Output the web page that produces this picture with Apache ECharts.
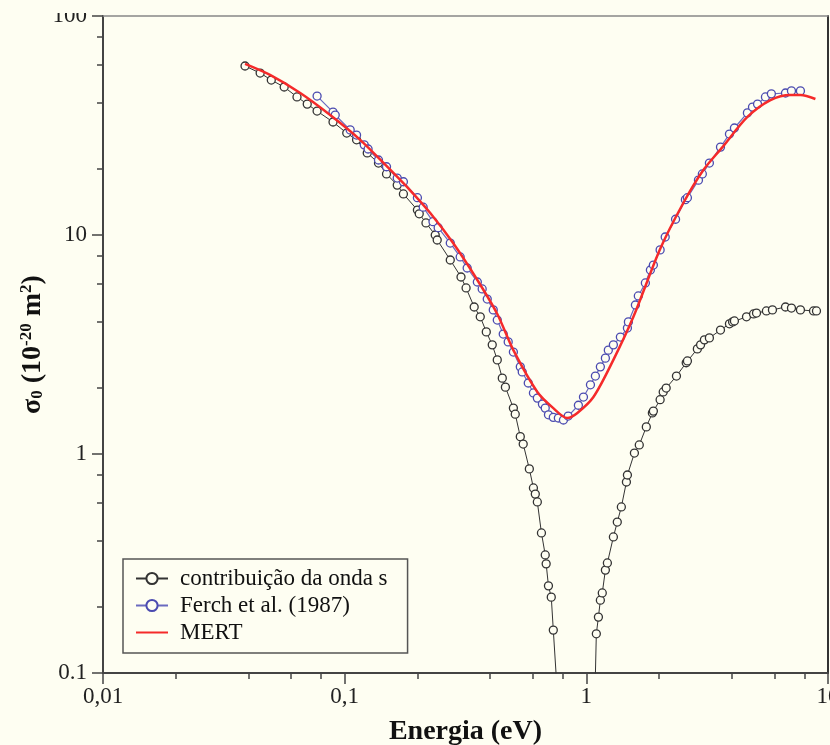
<!DOCTYPE html>
<html>
<head>
<meta charset="utf-8">
<script src="https://cdn.jsdelivr.net/npm/echarts@6/dist/echarts.min.js"></script>
<style>
html,body{margin:0;padding:0;background:#fefef2;}
#chart{width:830px;height:745px;}
</style>
</head>
<body>
<div id="chart"></div>
<script>
// s-wave contribution
const energyS = [0.0387,0.0447,0.0497,0.0562,0.0635,0.070,0.0769,0.0895,0.102,0.112,0.124,0.138,0.149,0.165,0.175,0.200,0.2035,0.217,0.237,0.2415,0.2735,0.303,0.318,0.3435,0.364,0.3855,0.408,0.428,0.449,0.4625,0.499,0.508,0.533,0.548,0.581,0.604,0.615,0.627,0.652,0.676,0.682,0.697,0.716,0.730,0.766,1.084,1.10,1.122,1.143,1.164,1.199,1.222,1.294,1.343,1.396,1.465,1.479,1.581,1.656,1.771,1.876,1.894,2.02,2.08,2.14,2.36,2.59,2.62,2.88,2.97,3.08,3.23,3.59,3.91,4.03,4.10,4.60,4.92,5.06,5.56,5.89,6.67,7.06,7.69,8.71,8.96];
const sigmaS = [59.1,54.9,51.0,47.4,42.7,39.6,36.8,32.8,29.2,27.2,23.7,21.3,19.0,16.9,15.4,13.0,12.5,11.35,10.0,9.49,7.69,6.43,5.73,4.69,4.23,3.61,3.15,2.69,2.22,2.02,1.62,1.52,1.20,1.11,0.855,0.70,0.656,0.604,0.436,0.346,0.315,0.250,0.222,0.157,0.068,0.075,0.151,0.180,0.215,0.232,0.295,0.318,0.418,0.489,0.573,0.745,0.802,1.01,1.10,1.33,1.54,1.57,1.77,1.92,2.00,2.27,2.61,2.66,3.02,3.15,3.32,3.39,3.68,3.93,4.01,4.05,4.23,4.36,4.40,4.50,4.55,4.69,4.64,4.55,4.50,4.50];
// Ferch et al. (1987)
const energyF = [0.0769,0.0895,0.0914,0.1054,0.112,0.1205,0.125,0.138,0.149,0.165,0.175,0.200,0.2113,0.232,0.2437,0.2735,0.3006,0.3213,0.354,0.3707,0.389,0.412,0.428,0.453,0.475,0.499,0.533,0.543,0.575,0.604,0.627,0.658,0.676,0.697,0.730,0.766,0.804,0.841,0.927,0.973,1.04,1.09,1.143,1.199,1.233,1.294,1.383,1.479,1.493,1.596,1.641,1.755,1.841,1.894,2.02,2.12,2.34,2.57,2.62,2.91,3.02,3.23,3.59,3.91,4.10,4.64,4.87,5.11,5.51,5.83,6.67,7.06,7.69];
const sigmaF = [43.1,36.4,35.3,30.2,28.6,25.8,24.7,22.0,20.5,18.2,17.5,14.8,13.4,11.5,10.8,9.19,7.94,7.07,6.10,5.67,5.10,4.55,4.09,3.53,3.25,2.92,2.50,2.37,2.11,1.90,1.80,1.69,1.62,1.51,1.47,1.46,1.43,1.49,1.67,1.82,2.07,2.27,2.50,2.74,2.98,3.15,3.42,3.76,4.01,4.79,5.27,6.04,6.92,7.29,8.55,9.79,11.8,14.5,14.8,17.8,19.0,21.3,25.2,28.9,30.8,36.1,38.4,39.6,42.7,44.1,44.5,45.5,45.5];
// MERT
const energyM = [0.0387,0.0491,0.0655,0.0871,0.1159,0.150,0.1866,0.226,0.281,0.354,0.428,0.499,0.627,0.730,0.834,0.918,1.07,1.294,1.566,2.02,2.52,3.05,3.66,4.64,5.78,7.0,7.69,8.87];
const sigmaM = [60.4,53.8,44.5,35.3,27.2,20.5,16.0,12.6,9.19,6.23,4.36,2.98,1.92,1.62,1.46,1.54,1.82,2.69,4.23,8.63,14.0,19.8,25.2,34.6,41.3,43.6,43.6,41.8];

const seriesNames = ['contribuição da onda s', 'Ferch et al. (1987)', 'MERT'];
const xTickLabels = ['0,01', '0,1', '1', '10'];
const yTickLabels = ['0.1', '1', '10', '100'];
const xMinorTicks = [0.02,0.04,0.06,0.08,0.2,0.4,0.6,0.8,2,4,6,8];
const yMinorTicks = [0.2,0.4,0.6,0.8,2,4,6,8,20,40,60,80];

const BG = '#fefef2';
const FONT = '"Liberation Serif", "Times New Roman", serif';

function pairs(xs, ys) { return xs.map((x, i) => [x, ys[i]]); }

const chart = echarts.init(document.getElementById('chart'), null, {renderer: 'canvas'});
chart.setOption({
  backgroundColor: BG,
  animation: false,
  textStyle: {fontFamily: FONT},
  grid: {left: 103, top: 16, right: 2, bottom: 72, containLabel: false, outerBoundsMode: 'none'},
  legend: {
    orient: 'vertical',
    left: 123, top: 559,
    data: [
      {name: seriesNames[0]},
      {name: seriesNames[1]},
      {name: seriesNames[2], itemStyle: {opacity: 0}}
    ],
    backgroundColor: BG,
    borderColor: '#555',
    borderWidth: 1.5,
    borderRadius: 0,
    padding: [8, 20, 9, 12],
    itemGap: 4,
    itemWidth: 32,
    itemHeight: 14,
    textStyle: {fontFamily: FONT, fontSize: 23, color: '#111', padding: [0, 0, 0, 7]}
  },
  xAxis: [
    {
      type: 'log', logBase: 10, min: 0.01, max: 10,
      position: 'bottom',
      name: 'Energia (eV)', nameLocation: 'middle', nameGap: 45, nameMoveOverlap: false,
      nameTextStyle: {fontFamily: FONT, fontSize: 28, fontWeight: 'bold', color: '#111'},
      axisLine: {show: true, lineStyle: {color: '#444', width: 2}},
      axisTick: {show: true, inside: false, length: 11, lineStyle: {color: '#444', width: 1.5}},
      axisLabel: {show: true, margin: 12, fontFamily: FONT, fontSize: 23, color: '#222',
        formatter: (v, i) => xTickLabels[i]},
      splitLine: {show: false}, minorTick: {show: false}
    },
    {
      type: 'log', logBase: 10, min: 0.01, max: 10,
      position: 'bottom',
      axisLine: {show: false},
      axisTick: {show: true, inside: false, length: 6, customValues: xMinorTicks, lineStyle: {color: '#444', width: 1.5}},
      axisLabel: {show: false},
      splitLine: {show: false}
    },
    {
      type: 'log', logBase: 10, min: 0.01, max: 10,
      position: 'top',
      axisLine: {show: true, lineStyle: {color: '#888', width: 1.5}},
      axisTick: {show: false}, axisLabel: {show: false}, splitLine: {show: false}
    }
  ],
  yAxis: [
    {
      type: 'log', logBase: 10, min: 0.1, max: 100,
      position: 'left',
      name: '{b|σ}{sub|0}{b| (10}{sup|-20}{b| m}{sup|2}{b|)}',
      nameLocation: 'middle', nameGap: 52, nameRotate: 90, nameMoveOverlap: false,
      nameTextStyle: {
        fontFamily: FONT, fontWeight: 'bold', color: '#111',
        rich: {
          b: {fontFamily: FONT, fontSize: 28, fontWeight: 'bold', color: '#111', lineHeight: 36},
          sub: {fontFamily: FONT, fontSize: 17, fontWeight: 'bold', color: '#111', lineHeight: 17, verticalAlign: 'bottom', padding: [0, 0, 5, 0]},
          sup: {fontFamily: FONT, fontSize: 17, fontWeight: 'bold', color: '#111', lineHeight: 17, verticalAlign: 'top', padding: [3, 0, 0, 0]}
        }
      },
      axisLine: {show: true, lineStyle: {color: '#444', width: 2}},
      axisTick: {show: true, inside: false, length: 11, lineStyle: {color: '#444', width: 1.5}},
      axisLabel: {show: true, margin: 16, fontFamily: FONT, fontSize: 23, color: '#222',
        formatter: (v, i) => yTickLabels[i]},
      splitLine: {show: false}
    },
    {
      type: 'log', logBase: 10, min: 0.1, max: 100,
      position: 'left',
      axisLine: {show: false},
      axisTick: {show: true, inside: false, length: 6, customValues: yMinorTicks, lineStyle: {color: '#444', width: 1.5}},
      axisLabel: {show: false},
      splitLine: {show: false}
    },
    {
      type: 'log', logBase: 10, min: 0.1, max: 100,
      position: 'right',
      axisLine: {show: true, lineStyle: {color: '#333', width: 2}},
      axisTick: {show: false}, axisLabel: {show: false}, splitLine: {show: false}
    }
  ],
  series: [
    {
      name: seriesNames[0], type: 'line', xAxisIndex: 0, yAxisIndex: 0,
      data: pairs(energyS, sigmaS),
      symbol: 'circle', symbolSize: 8, showSymbol: true, clip: true,
      itemStyle: {color: BG, borderColor: '#333', borderWidth: 1.3},
      lineStyle: {color: '#333', width: 1},
      z: 2
    },
    {
      name: seriesNames[1], type: 'line', xAxisIndex: 0, yAxisIndex: 0,
      data: pairs(energyF, sigmaF),
      symbol: 'circle', symbolSize: 8, showSymbol: true, clip: true,
      itemStyle: {color: BG, borderColor: '#4b4bb0', borderWidth: 1.3},
      lineStyle: {color: '#6a6ac0', width: 1.2},
      z: 3
    },
    {
      name: seriesNames[2], type: 'line', xAxisIndex: 0, yAxisIndex: 0,
      data: pairs(energyM, sigmaM),
      symbol: 'none', smooth: 0.3, clip: true,
      itemStyle: {color: '#f52a2a'},
      lineStyle: {color: '#f52a2a', width: 2.5},
      z: 4
    }
  ],
  graphic: [
    {type: 'rect', left: 40, top: 0, shape: {width: 60, height: 13}, style: {fill: BG}, z: 100, silent: true}
  ]
});
</script>
</body>
</html>
